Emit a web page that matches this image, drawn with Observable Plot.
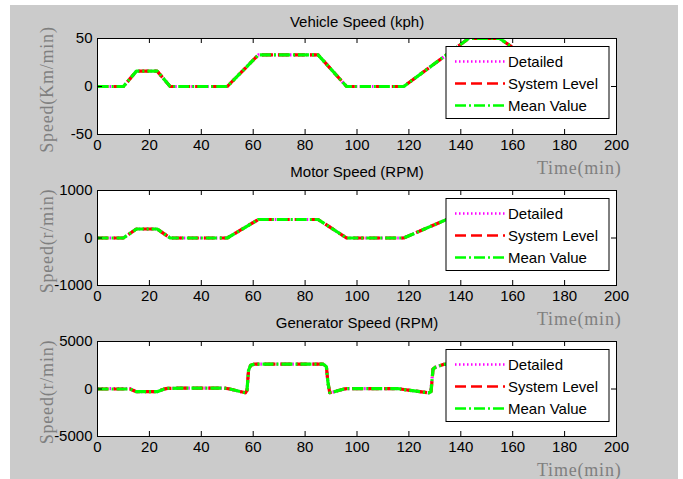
<!DOCTYPE html>
<html><head><meta charset="utf-8">
<script src="https://cdn.jsdelivr.net/npm/d3@7"></script>
<script src="https://cdn.jsdelivr.net/npm/@observablehq/plot@0.6"></script>
<style>
html,body{margin:0;padding:0;background:#fff;}
#fig{position:relative;width:683px;height:479px;overflow:hidden;background:#fff;}
#bg{position:absolute;left:10px;top:5px;width:668px;height:474px;background:#cbcbcb;}
#fig svg{position:absolute;left:0;}
#fig g[font-family*="Serif"]{letter-spacing:0.8px;}
</style></head><body><div id="fig"><div id="bg"></div></div>
<script>
// ---------- data ----------
const timeTicks = [0, 20, 40, 60, 80, 100, 120, 140, 160, 180, 200];
const seriesNames = ["Detailed", "System Level", "Mean Value"];

const vehicleTicks = [-50, 0, 50];
const vehicleTime = [0, 10, 15, 23, 28, 50, 62, 85, 96, 118, 143, 155, 163, 176, 188, 195];
const vehicleDetailed = [0, 0, 16, 16, 0, 0, 33, 33, 0, 0, 50, 50, 35, 35, 0, 0];
const vehicleSystem = [0, 0, 16, 16, 0, 0, 33, 33, 0, 0, 50, 50, 35, 35, 0, 0];
const vehicleMean = [0, 0, 16, 16, 0, 0, 33, 33, 0, 0, 50, 50, 35, 35, 0, 0];

const motorTicks = [-1000, 0, 1000];
const motorTime = [0, 10, 15, 23, 28, 50, 62, 85, 96, 118, 143, 155, 163, 176, 188, 195];
const motorDetailed = [0, 0, 190, 190, 0, 0, 390, 390, 0, 0, 590, 590, 415, 415, 0, 0];
const motorSystem = [0, 0, 190, 190, 0, 0, 390, 390, 0, 0, 590, 590, 415, 415, 0, 0];
const motorMean = [0, 0, 190, 190, 0, 0, 390, 390, 0, 0, 590, 590, 415, 415, 0, 0];

const genTicks = [-5000, 0, 5000];
const genTime = [0, 12.5, 15, 23, 25.5, 27, 32, 48.5, 51, 57, 57.6, 58.2, 59, 60.5, 87, 88.2, 88.8, 89.5, 91, 95, 96.5, 115.5, 120.5, 127.7, 128.5, 129.3, 130.3, 133.5, 136, 155, 157, 163, 176, 178, 188, 195];
const genDetailed = [50, 30, -280, -280, -20, 60, 100, 100, 0, -400, -150, 1950, 2500, 2620, 2620, 2350, 700, -380, -300, 0, 50, 50, -150, -400, 0, 2100, 2300, 2600, 2650, 2650, 2400, 1800, 1800, 1200, -200, 0];
const genSystem = [0, 0, -280, -280, -20, 60, 100, 100, 0, -400, -150, 1950, 2500, 2620, 2620, 2350, 700, -380, -300, 0, 50, 50, -150, -400, -450, 2100, 2300, 2600, 2650, 2650, 2400, 1800, 1800, 1200, -200, 0];
const genMean = [0, 0, -280, -280, -20, 60, 100, 100, 0, -400, -150, 1950, 2500, 2620, 2620, 2350, 700, -380, -300, 0, 50, 50, -150, -400, -300, 2100, 2300, 2600, 2650, 2650, 2400, 1800, 1800, 1200, -200, 0];

// ---------- style ----------
const colors = ["#ff00ff", "#ff0000", "#00ff00"];
const dashes = ["1.5,2.5", "11,5", "11,3,2,3"];
const sans = "'Liberation Sans', Arial, Helvetica, sans-serif";
const serif = "'Liberation Serif', 'Times New Roman', serif";

function subplot({frameTop, frameH, titleDy, title, ylabel, ticks, time, values}) {
  const mt = 33, mb = 46, W = 683, ml = 97, mr = 67;
  const H = mt + frameH + mb;
  const frameW = W - ml - mr;
  const lines = values.map((vals, k) => Plot.line(time.map((t, i) => ({t, v: vals[i]})), {
    x: "t", y: "v", stroke: colors[k], strokeWidth: 3.2, strokeDasharray: dashes[k],
    strokeLinecap: "butt", strokeLinejoin: "round", clip: true
  }));
  const svg = Plot.plot({
    width: W, height: H, marginLeft: ml, marginRight: mr, marginTop: mt, marginBottom: mb,
    style: {background: "transparent", fontFamily: sans, fontSize: "15px", color: "#000", overflow: "visible"},
    x: {domain: [0, 200]},
    y: {domain: [ticks[0], ticks[ticks.length - 1]]},
    marks: [
      Plot.frame({fill: "white", stroke: null}),
      ...lines,
      Plot.tickX(timeTicks, {x: d => d, stroke: "#000", strokeWidth: 1, insetTop: frameH - 5}),
      Plot.tickX(timeTicks, {x: d => d, stroke: "#000", strokeWidth: 1, insetBottom: frameH - 5}),
      Plot.tickY(ticks, {y: d => d, stroke: "#000", strokeWidth: 1, insetRight: frameW - 5}),
      Plot.tickY(ticks, {y: d => d, stroke: "#000", strokeWidth: 1, insetLeft: frameW - 5}),
      Plot.axisX({ticks: timeTicks, tickSize: 0, tickPadding: 5, tickFormat: d => String(d), label: null, fontSize: 15}),
      Plot.axisY({ticks: ticks, tickSize: 0, tickPadding: 5, tickFormat: d => String(d), label: null, fontSize: 15}),
      Plot.frame({stroke: "#000", strokeWidth: 1}),
      Plot.text([title], {frameAnchor: "top", dy: titleDy, lineAnchor: "middle", fontSize: 15, fill: "#000", fontFamily: sans}),
      Plot.text([ylabel], {frameAnchor: "left", dx: -50, dy: 3, rotate: -90, textAnchor: "middle", lineAnchor: "middle", fontSize: 18, fill: "#7f7f7f", fontFamily: serif}),
      Plot.text(["Time(min)"], {frameAnchor: "bottom-right", dx: 5, dy: 34, textAnchor: "end", lineAnchor: "middle", fontSize: 18, fill: "#7f7f7f", fontFamily: serif})
    ]
  });
  svg.style.top = (frameTop - mt) + "px";
  // legend
  const g = d3.select(svg).append("g").attr("font-family", sans).attr("font-size", 15).attr("text-anchor", "start");
  const lx = 446, ly = mt + 8.5, lw = 163, lh = 72;
  g.append("rect").attr("x", lx).attr("y", ly).attr("width", lw).attr("height", lh)
    .attr("fill", "white").attr("stroke", "#000").attr("stroke-width", 1);
  seriesNames.forEach((name, k) => {
    const yy = ly + 15 + k * 22;
    g.append("line").attr("x1", lx + 9).attr("x2", lx + 59).attr("y1", yy).attr("y2", yy)
      .attr("stroke", colors[k]).attr("stroke-width", 2.5).attr("stroke-dasharray", dashes[k]);
    g.append("text").attr("x", lx + 62).attr("y", yy).attr("dy", "0.35em").attr("text-anchor", "start").attr("fill", "#000").text(name);
  });
  document.getElementById("fig").appendChild(svg);
}

subplot({frameTop: 38, frameH: 96, titleDy: -16, title: "Vehicle Speed (kph)", ylabel: "Speed(Km/min)", ticks: vehicleTicks,
  time: vehicleTime, values: [vehicleDetailed, vehicleSystem, vehicleMean]});
subplot({frameTop: 190, frameH: 95, titleDy: -18, title: "Motor Speed (RPM)", ylabel: "Speed(r/min)", ticks: motorTicks,
  time: motorTime, values: [motorDetailed, motorSystem, motorMean]});
subplot({frameTop: 341, frameH: 95, titleDy: -18, title: "Generator Speed (RPM)", ylabel: "Speed(r/min)", ticks: genTicks,
  time: genTime, values: [genDetailed, genSystem, genMean]});
</script>
</body></html>
